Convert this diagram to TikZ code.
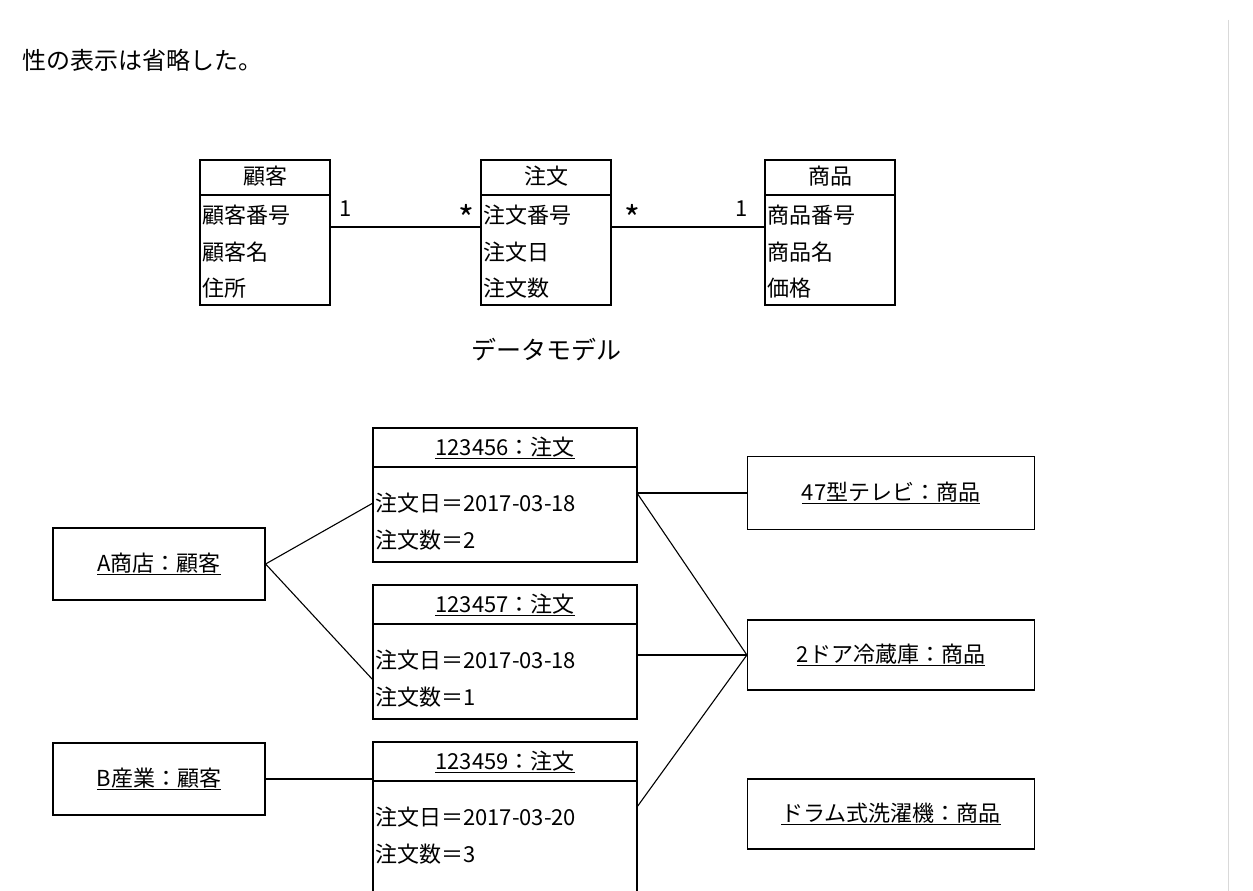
\documentclass[tikz,border=0pt]{standalone}
\usepackage{fontspec}
\setmainfont{Noto Sans CJK JP}
\begin{document}
\begin{tikzpicture}[x=1pt,y=-1pt,
  bx/.style={draw,line width=1.2pt},
  t/.style={anchor=west,inner sep=0pt,font=\fontsize{22}{22}\selectfont},
  tc/.style={inner sep=0pt,font=\fontsize{22}{22}\selectfont},
  ln/.style={line width=1.1pt}]
\useasboundingbox (0,0) rectangle (1253,891);
\clip (0,0) rectangle (1253,891);
\draw[black!15,line width=1pt] (1228,20) -- (1228,891);
\node[t,font=\fontsize{24}{24}\selectfont] (cap) at (22,60) {性の表示は省略した。};
% data model
\foreach \n/\x/\h/\a/\b/\c in {cu/200/顧客/顧客番号/顧客名/住所, od/481/注文/注文番号/注文日/注文数, pr/765/商品/商品番号/商品名/価格}{
  \draw[bx] (\x,160) rectangle ++(130,145);
  \draw[bx] (\x,195) -- ++(130,0);
  \node[tc] (\n h) at (\x+65,176) {\h};
  \node[t] (\n a) at (\x+2,215) {\a};
  \node[t] (\n b) at (\x+2,252) {\b};
  \node[t] (\n c) at (\x+2,288) {\c};
}
\coordinate (c1) at (330,227); \coordinate (c2) at (481,227);
\coordinate (c3) at (610,227); \coordinate (c4) at (765,227);
\draw[ln] (c1) -- (c2);
\draw[ln] (c3) -- (c4);
\node[tc] (m1) at (346,209) {1};
\node[tc,font=\fontsize{34}{34}\selectfont] (m2) at (466,218) {*};
\node[tc,font=\fontsize{34}{34}\selectfont] (m3) at (632,218) {*};
\node[tc] (m4) at (742,209) {1};
\node[tc,font=\fontsize{25}{25}\selectfont] (dm) at (546,350) {データモデル};
% order objects
\foreach \n/\y/\hh/\id/\d/\q in {o1/428/134/123456/2017-03-18/2, o2/585/134/123457/2017-03-18/1, o3/742/170/123459/2017-03-20/3}{
  \draw[bx] (373,\y) rectangle (637,\y+\hh);
  \draw[bx] (373,\y+39) -- (637,\y+39);
  \node[tc] (\n h) at (505,\y+20) {\underline{\id：注文}};
  \node[t] (\n a) at (375,\y+75) {注文日＝\d};
  \node[t] (\n b) at (375,\y+112) {注文数＝\q};
}
\node[bx,tc,minimum width=212,minimum height=72] (A) at (159,564) {\underline{A商店：顧客}};
\node[bx,tc,minimum width=212,minimum height=72] (B) at (159,779) {\underline{B産業：顧客}};
\node[bx,tc,minimum width=287,minimum height=73] (P1) at (891,493) {\underline{47型テレビ：商品}};
\node[bx,tc,minimum width=287,minimum height=70] (P2) at (891,655) {\underline{2ドア冷蔵庫：商品}};
\node[bx,tc,minimum width=287,minimum height=70] (P3) at (891,814) {\underline{ドラム式洗濯機：商品}};
\coordinate (o1l) at (373,503); \coordinate (o2l) at (373,680); \coordinate (o3l) at (373,779);
\coordinate (o1r) at (637,493); \coordinate (o2r) at (637,655); \coordinate (o3r) at (637,807);
\draw[ln] (A.east) -- (o1l);
\draw[ln] (A.east) -- (o2l);
\draw[ln] (B.east) -- (o3l);
\draw[ln] (o1r) -- (P1.west);
\draw[ln] (o1r) -- (P2.west);
\draw[ln] (o2r) -- (P2.west);
\draw[ln] (o3r) -- (P2.west);
\end{tikzpicture}
\end{document}
